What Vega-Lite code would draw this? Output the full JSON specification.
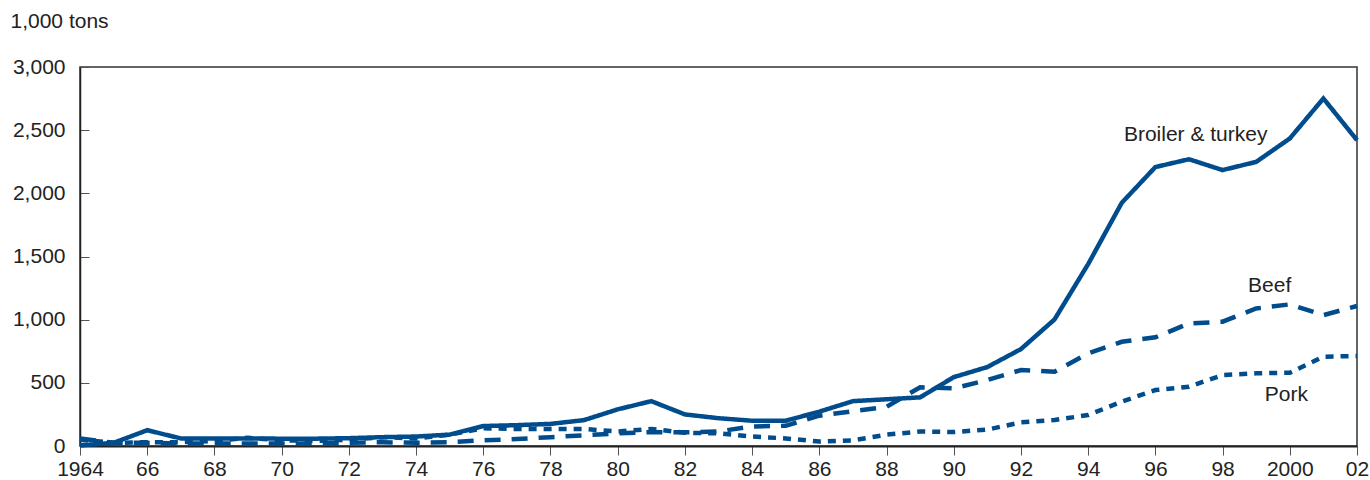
{
  "$schema": "https://vega.github.io/schema/vega-lite/v6.json",
  "width": 1277,
  "height": 379,
  "autosize": {"type": "none"},
  "padding": {"left": 80, "top": 67, "right": 13, "bottom": 34},
  "background": "white",
  "config": {
    "font": "Liberation Sans",
    "view": {"stroke": "#333333", "strokeWidth": 1.5},
    "axis": {"labelFont": "Liberation Sans", "labelFontSize": 21, "labelColor": "#222222", "domainColor": "#222222", "tickColor": "#555555", "grid": false}
  },
  "datasets": {
    "exports": [
      {"year": 1964, "type": "Broiler & turkey", "value": 5},
      {"year": 1965, "type": "Broiler & turkey", "value": 25},
      {"year": 1966, "type": "Broiler & turkey", "value": 125},
      {"year": 1967, "type": "Broiler & turkey", "value": 60},
      {"year": 1968, "type": "Broiler & turkey", "value": 60},
      {"year": 1969, "type": "Broiler & turkey", "value": 60},
      {"year": 1970, "type": "Broiler & turkey", "value": 58},
      {"year": 1971, "type": "Broiler & turkey", "value": 58},
      {"year": 1972, "type": "Broiler & turkey", "value": 62},
      {"year": 1973, "type": "Broiler & turkey", "value": 70},
      {"year": 1974, "type": "Broiler & turkey", "value": 75},
      {"year": 1975, "type": "Broiler & turkey", "value": 90},
      {"year": 1976, "type": "Broiler & turkey", "value": 158},
      {"year": 1977, "type": "Broiler & turkey", "value": 165},
      {"year": 1978, "type": "Broiler & turkey", "value": 175},
      {"year": 1979, "type": "Broiler & turkey", "value": 205},
      {"year": 1980, "type": "Broiler & turkey", "value": 290},
      {"year": 1981, "type": "Broiler & turkey", "value": 355},
      {"year": 1982, "type": "Broiler & turkey", "value": 250},
      {"year": 1983, "type": "Broiler & turkey", "value": 220},
      {"year": 1984, "type": "Broiler & turkey", "value": 200},
      {"year": 1985, "type": "Broiler & turkey", "value": 200},
      {"year": 1986, "type": "Broiler & turkey", "value": 272},
      {"year": 1987, "type": "Broiler & turkey", "value": 355},
      {"year": 1988, "type": "Broiler & turkey", "value": 370},
      {"year": 1989, "type": "Broiler & turkey", "value": 385},
      {"year": 1990, "type": "Broiler & turkey", "value": 545},
      {"year": 1991, "type": "Broiler & turkey", "value": 625},
      {"year": 1992, "type": "Broiler & turkey", "value": 767},
      {"year": 1993, "type": "Broiler & turkey", "value": 1002},
      {"year": 1994, "type": "Broiler & turkey", "value": 1440},
      {"year": 1995, "type": "Broiler & turkey", "value": 1925},
      {"year": 1996, "type": "Broiler & turkey", "value": 2208},
      {"year": 1997, "type": "Broiler & turkey", "value": 2270},
      {"year": 1998, "type": "Broiler & turkey", "value": 2184},
      {"year": 1999, "type": "Broiler & turkey", "value": 2249},
      {"year": 2000, "type": "Broiler & turkey", "value": 2434},
      {"year": 2001, "type": "Broiler & turkey", "value": 2751},
      {"year": 2002, "type": "Broiler & turkey", "value": 2421},
      {"year": 1964, "type": "Beef", "value": 60},
      {"year": 1965, "type": "Beef", "value": 25},
      {"year": 1966, "type": "Beef", "value": 25},
      {"year": 1967, "type": "Beef", "value": 20},
      {"year": 1968, "type": "Beef", "value": 20},
      {"year": 1969, "type": "Beef", "value": 20},
      {"year": 1970, "type": "Beef", "value": 20},
      {"year": 1971, "type": "Beef", "value": 20},
      {"year": 1972, "type": "Beef", "value": 25},
      {"year": 1973, "type": "Beef", "value": 30},
      {"year": 1974, "type": "Beef", "value": 25},
      {"year": 1975, "type": "Beef", "value": 30},
      {"year": 1976, "type": "Beef", "value": 45},
      {"year": 1977, "type": "Beef", "value": 55},
      {"year": 1978, "type": "Beef", "value": 70},
      {"year": 1979, "type": "Beef", "value": 85},
      {"year": 1980, "type": "Beef", "value": 100},
      {"year": 1981, "type": "Beef", "value": 110},
      {"year": 1982, "type": "Beef", "value": 108},
      {"year": 1983, "type": "Beef", "value": 115},
      {"year": 1984, "type": "Beef", "value": 155},
      {"year": 1985, "type": "Beef", "value": 160},
      {"year": 1986, "type": "Beef", "value": 240},
      {"year": 1987, "type": "Beef", "value": 275},
      {"year": 1988, "type": "Beef", "value": 310},
      {"year": 1989, "type": "Beef", "value": 465},
      {"year": 1990, "type": "Beef", "value": 456},
      {"year": 1991, "type": "Beef", "value": 522},
      {"year": 1992, "type": "Beef", "value": 601},
      {"year": 1993, "type": "Beef", "value": 588},
      {"year": 1994, "type": "Beef", "value": 733},
      {"year": 1995, "type": "Beef", "value": 825},
      {"year": 1996, "type": "Beef", "value": 860},
      {"year": 1997, "type": "Beef", "value": 970},
      {"year": 1998, "type": "Beef", "value": 984},
      {"year": 1999, "type": "Beef", "value": 1089},
      {"year": 2000, "type": "Beef", "value": 1121},
      {"year": 2001, "type": "Beef", "value": 1036},
      {"year": 2002, "type": "Beef", "value": 1108},
      {"year": 1964, "type": "Pork", "value": 50},
      {"year": 1965, "type": "Pork", "value": 25},
      {"year": 1966, "type": "Pork", "value": 30},
      {"year": 1967, "type": "Pork", "value": 30},
      {"year": 1968, "type": "Pork", "value": 40},
      {"year": 1969, "type": "Pork", "value": 65},
      {"year": 1970, "type": "Pork", "value": 45},
      {"year": 1971, "type": "Pork", "value": 40},
      {"year": 1972, "type": "Pork", "value": 50},
      {"year": 1973, "type": "Pork", "value": 70},
      {"year": 1974, "type": "Pork", "value": 60},
      {"year": 1975, "type": "Pork", "value": 90},
      {"year": 1976, "type": "Pork", "value": 140},
      {"year": 1977, "type": "Pork", "value": 135},
      {"year": 1978, "type": "Pork", "value": 135},
      {"year": 1979, "type": "Pork", "value": 135},
      {"year": 1980, "type": "Pork", "value": 115},
      {"year": 1981, "type": "Pork", "value": 135},
      {"year": 1982, "type": "Pork", "value": 105},
      {"year": 1983, "type": "Pork", "value": 100},
      {"year": 1984, "type": "Pork", "value": 75},
      {"year": 1985, "type": "Pork", "value": 60},
      {"year": 1986, "type": "Pork", "value": 35},
      {"year": 1987, "type": "Pork", "value": 45},
      {"year": 1988, "type": "Pork", "value": 90},
      {"year": 1989, "type": "Pork", "value": 115},
      {"year": 1990, "type": "Pork", "value": 110},
      {"year": 1991, "type": "Pork", "value": 130},
      {"year": 1992, "type": "Pork", "value": 187},
      {"year": 1993, "type": "Pork", "value": 206},
      {"year": 1994, "type": "Pork", "value": 245},
      {"year": 1995, "type": "Pork", "value": 351},
      {"year": 1996, "type": "Pork", "value": 443},
      {"year": 1997, "type": "Pork", "value": 469},
      {"year": 1998, "type": "Pork", "value": 562},
      {"year": 1999, "type": "Pork", "value": 575},
      {"year": 2000, "type": "Pork", "value": 580},
      {"year": 2001, "type": "Pork", "value": 707},
      {"year": 2002, "type": "Pork", "value": 712}
    ],
    "labels": [
      {"year": 1997.2, "value": 2460, "label": "Broiler & turkey"},
      {"year": 1999.4, "value": 1266, "label": "Beef"},
      {"year": 1999.9, "value": 403, "label": "Pork"}
    ]
  },
  "layer": [
    {
      "data": {"name": "exports"},
      "mark": {"type": "line", "color": "#004c8c", "strokeWidth": 4.5},
      "encoding": {
        "x": {
          "field": "year", "type": "quantitative",
          "scale": {"domain": [1964, 2002], "nice": false, "zero": false},
          "axis": {
            "title": null,
            "values": [1964,1965,1966,1967,1968,1969,1970,1971,1972,1973,1974,1975,1976,1977,1978,1979,1980,1981,1982,1983,1984,1985,1986,1987,1988,1989,1990,1991,1992,1993,1994,1995,1996,1997,1998,1999,2000,2001,2002],
            "labelExpr": "datum.value % 2 != 0 ? '' : (datum.value == 1964 || datum.value == 2000 ? '' + datum.value : substring('' + datum.value, 2, 4))",
            "tickSize": 9,
            "labelPadding": 3,
            "labelFlush": false,
            "labelOverlap": false,
            "domainWidth": 2
          }
        },
        "y": {
          "field": "value", "type": "quantitative",
          "scale": {"domain": [0, 3000], "nice": false},
          "axis": {
            "values": [0, 500, 1000, 1500, 2000, 2500, 3000],
            "format": ",d",
            "tickSize": -9,
            "labelPadding": 24,
            "domainWidth": 1.5,
            "title": "1,000 tons",
            "titleAngle": 0,
            "titleAlign": "left",
            "titleBaseline": "alphabetic",
            "titleX": -70,
            "titleY": -40,
            "titleFont": "Liberation Sans",
            "titleFontSize": 21,
            "titleFontWeight": "normal",
            "titleColor": "#222222"
          }
        },
        "strokeDash": {
          "field": "type", "type": "nominal",
          "scale": {"domain": ["Broiler & turkey", "Beef", "Pork"], "range": [[1, 0], [16, 11], [8, 7]]},
          "legend": null
        },
        "detail": {"field": "type"}
      }
    },
    {
      "data": {"name": "labels"},
      "mark": {"type": "text", "fontSize": 21, "color": "#222222", "align": "center", "baseline": "middle", "font": "Liberation Sans"},
      "encoding": {
        "x": {"field": "year", "type": "quantitative"},
        "y": {"field": "value", "type": "quantitative"},
        "text": {"field": "label"}
      }
    }
  ]
}
